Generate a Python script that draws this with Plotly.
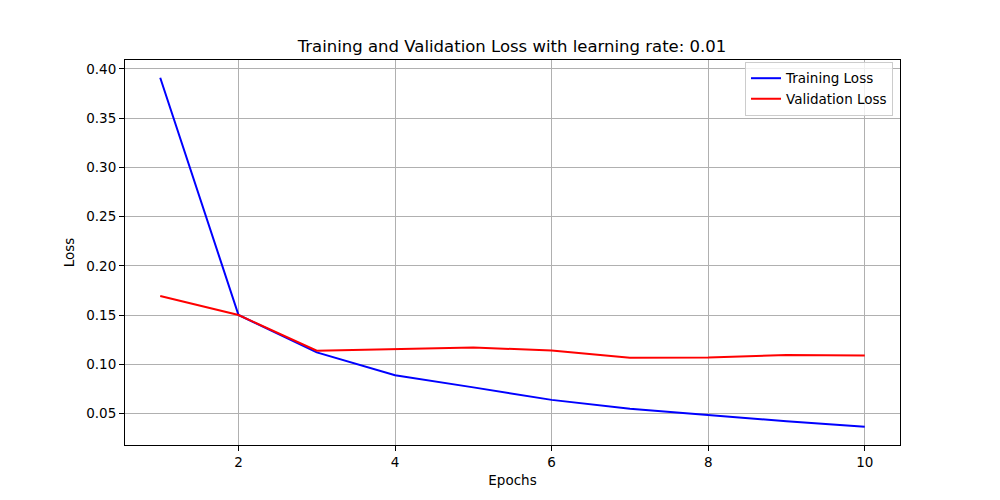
import plotly.graph_objects as go

epochs = [1, 2, 3, 4, 5, 6, 7, 8, 9, 10]
train_loss = [0.391, 0.150, 0.112, 0.0889, 0.0765, 0.0638, 0.0547, 0.0481, 0.0421, 0.0366]
val_loss = [0.1694, 0.150, 0.1137, 0.115, 0.117, 0.1139, 0.1065, 0.1069, 0.1094, 0.1089]

font = "DejaVu Sans"

fig = go.Figure()
fig.add_trace(go.Scatter(x=epochs, y=train_loss, mode="lines", name="Training Loss",
                         line=dict(color="blue", width=2)))
fig.add_trace(go.Scatter(x=epochs, y=val_loss, mode="lines", name="Validation Loss",
                         line=dict(color="red", width=2)))

axis_common = dict(
    showline=True, linecolor="black", linewidth=1, mirror=True,
    showgrid=True, gridcolor="#b0b0b0", gridwidth=1,
    ticks="outside", ticklen=5, tickcolor="black", tickwidth=1,
    zeroline=False,
    tickfont=dict(family=font, size=13.5, color="black"),
)

fig.update_layout(
    width=1000, height=500,
    paper_bgcolor="white", plot_bgcolor="white",
    margin=dict(l=117, r=108, t=52, b=63),
    font=dict(family=font, color="black"),
    title=dict(text="Training and Validation Loss with learning rate: 0.01",
               x=0.504, xanchor="center", y=0.924, yanchor="middle",
               font=dict(family=font, size=16.5, color="black")),
    xaxis=dict(range=[0.55, 10.45], tickmode="linear", tick0=0, dtick=2,
               title=dict(text="Epochs", font=dict(family=font, size=13.5), standoff=6),
               **axis_common),
    yaxis=dict(range=[0.01796, 0.40907], tickmode="linear", tick0=0, dtick=0.05,
               tickformat=".2f",
               title=dict(text="Loss", font=dict(family=font, size=13.5), standoff=8),
               **axis_common),
    legend=dict(x=0.991, y=0.995, xanchor="right", yanchor="top",
                bgcolor="rgba(255,255,255,0.8)", bordercolor="#cccccc", borderwidth=1,
                font=dict(family=font, size=13.5, color="black"),
                tracegroupgap=0, itemwidth=30),
    showlegend=True,
)

fig.write_html("out.html")
